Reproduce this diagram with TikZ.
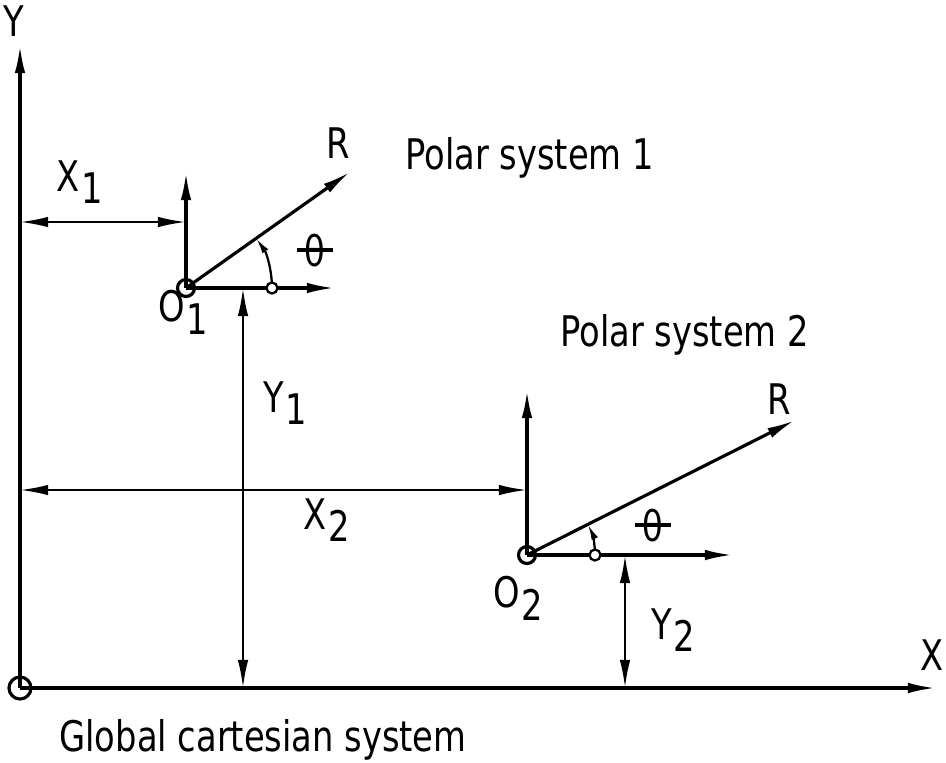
\documentclass[tikz,border=0pt]{standalone}
\usepackage{fontspec}
\setmainfont{DejaVu Sans}[FakeStretch=0.8]
\usetikzlibrary{arrows.meta}
\newcommand\idx[1]{\kern1pt\lower0.55ex\hbox{#1}}
\newcommand\sttheta{\ooalign{\hfil θ\hfil\cr\raisebox{0.34em}{\rule{0.85em}{0.08em}}}}

\begin{document}
\begin{tikzpicture}[x=0.02cm,y=-0.02cm,>={Latex[length=16pt,width=6pt]},line width=1.8pt,font=\fontsize{24}{28}\selectfont]
  \useasboundingbox (0,0) rectangle (946,762);
  \tikzset{dim/.style={<->,line width=1.3pt},
    ang/.style={-{Latex[length=9pt,width=4pt]},line width=1.3pt},
    pt/.style={draw,circle,fill=white,inner sep=0pt,minimum size=0.22cm,line width=1.3pt}}

  % global system
  \coordinate (G) at (20,688);
  \coordinate (GY) at (20,45);
  \coordinate (GX) at (936,688);
  \draw[->] (G) -- (GY);
  \draw[->] (G) -- (GX);
  \draw (G) circle[radius=0.22cm];
  \node (Y) at (14,21) {Y};
  \node (X) at (932,655) {X};
  \node[anchor=west] (glob) at (52,740) {Global cartesian system};

  % polar system 1
  \coordinate (O1) at (186,288);
  \coordinate (O1v) at (186,172);
  \coordinate (O1h) at (335,288);
  \path (O1) ++(35.3:4.02cm) coordinate (R1);
  \draw[->] (O1) -- (O1v);
  \draw[->] (O1) -- (O1h);
  \draw[->] (O1) -- (R1);
  \draw (O1) circle[radius=0.17cm];
  \path (O1) ++(0:1.72cm) coordinate (T1);
  \draw[ang] (T1) arc[start angle=0,end angle=35.3,radius=1.72cm];
  \node[pt] (t1) at (T1) {};
  \node (r1) at (338,143) {R};
  \node (th1) at (315,250) {\sttheta};
  \node (o1) at (183,312) {O\idx{1}};
  \node[anchor=west] (pol1) at (398,158) {Polar system 1};

  % polar system 2
  \coordinate (O2) at (527,555);
  \coordinate (O2v) at (527,390);
  \coordinate (O2h) at (733,555);
  \path (O2) ++(26.7:6.0cm) coordinate (R2);
  \draw[->] (O2) -- (O2v);
  \draw[->] (O2) -- (O2h);
  \draw[->] (O2) -- (R2);
  \draw (O2) circle[radius=0.17cm];
  \path (O2) ++(0:1.36cm) coordinate (T2);
  \draw[ang] (T2) arc[start angle=0,end angle=26.7,radius=1.36cm];
  \node[pt] (t2) at (T2) {};
  \node (r2) at (779,399) {R};
  \node (th2) at (653,525) {\sttheta};
  \node (o2) at (518,598) {O\idx{2}};
  \node[anchor=west] (pol2) at (553,335) {Polar system 2};

  % dimensions
  \coordinate (x1a) at (20,222);
  \coordinate (x1b) at (186,222);
  \coordinate (y1a) at (243,288);
  \coordinate (y1b) at (243,688);
  \coordinate (x2a) at (20,490);
  \coordinate (x2b) at (527,490);
  \coordinate (y2a) at (625,555);
  \coordinate (y2b) at (625,688);
  \draw[dim] (x1a) -- (x1b);
  \draw[dim] (y1a) -- (y1b);
  \draw[dim] (x2a) -- (x2b);
  \draw[dim] (y2a) -- (y2b);
  \node (dx1) at (80,182) {X\idx{1}};
  \node (dy1) at (285,403) {Y\idx{1}};
  \node (dx2) at (327,520) {X\idx{2}};
  \node (dy2) at (673,630) {Y\idx{2}};
\end{tikzpicture}
\end{document}
